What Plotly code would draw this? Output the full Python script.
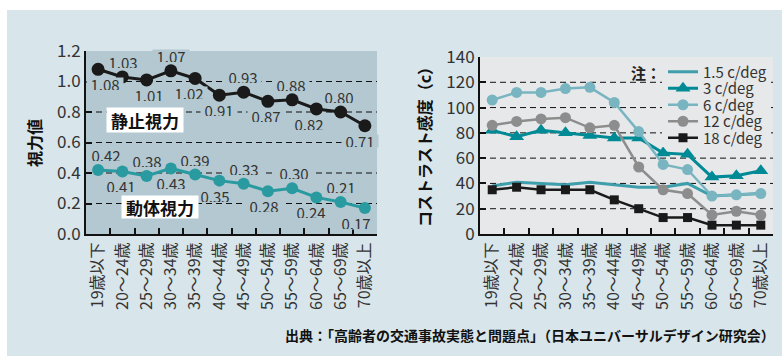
import plotly.graph_objects as go

# ---------------- data ----------------
age_labels = ["19歳以下", "20～24歳", "25～29歳", "30～34歳", "35～39歳", "40～44歳",
              "45～49歳", "50～54歳", "55～59歳", "60～64歳", "65～69歳", "70歳以上"]
static_acuity = [1.08, 1.03, 1.01, 1.07, 1.02, 0.91, 0.93, 0.87, 0.88, 0.82, 0.80, 0.71]
dynamic_acuity = [0.42, 0.41, 0.38, 0.43, 0.39, 0.35, 0.33, 0.28, 0.30, 0.24, 0.21, 0.17]
acuity_ticks = [0.0, 0.2, 0.4, 0.6, 0.8, 1.0, 1.2]

cs_names = ["1.5 c/deg", "3 c/deg", "6 c/deg", "12 c/deg", "18 c/deg"]
cs_1_5 = [38, 41, 40, 39, 41, 39, 37, 37, 40, 30, 31, 32]
cs_3 = [82, 77, 82, 80, 78, 76, 76, 64, 63, 45, 46, 50]
cs_6 = [106, 112, 112, 115, 116, 104, 81, 55, 51, 30, 31, 32]
cs_12 = [86, 89, 91, 92, 84, 86, 53, 35, 32, 15, 18, 15]
cs_18 = [35, 37, 35, 35, 35, 27, 20, 13, 13, 7, 7, 7]
cs_ticks = [0, 20, 40, 60, 80, 100, 120, 140]

# ---------------- style ----------------
W, H = 782, 356
FONT = "Noto Sans CJK JP"
OUTER_BG = "#d8e5ea"
LEFT_BG = "#b3c8d0"
RIGHT_BG = "#e6e8ea"
TXT = "#333333"

static_side = [1, -1, 1, -1, 1, 1, -1, 1, -1, 1, -1, 1]      # 1 = below, -1 = above
static_dx = [7, 1, 2, 0, -6, 0, -1, -2, -1, -7, -2, -5]
dynamic_side = [-1, 1, -1, 1, -1, 1, -1, 1, -1, 1, -1, 1]
dynamic_dx = [8, -1, 0, 0, 0, -4, 0, -4, 2, -5, 0, -9]

cs_series = [cs_1_5, cs_3, cs_6, cs_12, cs_18]
cs_colors = ["#3f9eab", "#008a95", "#79b5c1", "#8d8d8d", "#1a1a1a"]
cs_modes = ["lines", "lines+markers", "lines+markers", "lines+markers", "lines+markers"]
cs_symbols = ["circle", "triangle-up", "circle", "circle", "square"]
cs_msize = [1, 13, 11, 11, 9]
cs_lw = [3, 3, 2.5, 2.5, 2.5]
legend_rows_px = [72, 88.5, 105, 121.5, 138]


def px(x):
    return x / W


def py(y):
    return 1 - y / H


fig = go.Figure()

fig.add_trace(go.Scatter(
    x=age_labels, y=static_acuity, mode="lines+markers", xaxis="x", yaxis="y",
    line=dict(color="#1a1a1a", width=3), marker=dict(size=13, color="#1a1a1a"),
    showlegend=False, name="静止視力"))
fig.add_trace(go.Scatter(
    x=age_labels, y=dynamic_acuity, mode="lines+markers", xaxis="x", yaxis="y",
    line=dict(color="#2a9aa1", width=3), marker=dict(size=12, color="#2a9aa1"),
    showlegend=False, name="動体視力"))

for i, (name, vals) in enumerate(zip(cs_names, cs_series)):
    fig.add_trace(go.Scatter(
        x=age_labels, y=vals, mode=cs_modes[i], xaxis="x2", yaxis="y2", name=name,
        line=dict(color=cs_colors[i], width=cs_lw[i]),
        marker=dict(symbol=cs_symbols[i], size=cs_msize[i], color=cs_colors[i]),
        legend="legend" if i == 0 else f"legend{i + 1}"))

annotations = []
for vals, side, dx in [(static_acuity, static_side, static_dx),
                       (dynamic_acuity, dynamic_side, dynamic_dx)]:
    for i, v in enumerate(vals):
        annotations.append(dict(
            x=age_labels[i], y=v, xref="x", yref="y", text=f"{v:.2f}", showarrow=False,
            xanchor="center", yanchor="middle",
            xshift=dx[i], yshift=-15 * side[i], bgcolor=LEFT_BG, borderpad=0,
            height=12, width=36,
            font=dict(family=FONT, size=15, color=TXT)))


def paper_text(x, y, text, size, angle=0, color="#111111", bold=True, **kw):
    d = dict(x=px(x), y=py(y), xref="paper", yref="paper", text=text, showarrow=False,
             xanchor="center", yanchor="middle", textangle=angle,
             font=dict(family=FONT, size=size, color=color,
                       weight="bold" if bold else "normal"))
    d.update(kw)
    return d


annotations += [
    paper_text(145, 120, "静止視力", 17, bgcolor="white", width=76, height=24, borderpad=0),
    paper_text(160, 207, "動体視力", 17, bgcolor="white", width=76, height=22, borderpad=0),
    paper_text(34, 143, "視力値", 16, angle=-90),
    paper_text(424, 143, "コストラスト感度（c）", 16, angle=-90),
    paper_text(646, 72, "注：", 15, color="#222222"),
    paper_text(777, 335, "出典：「高齢者の交通事故実態と問題点」（日本ユニバーサルデザイン研究会）",
               14, xanchor="right"),
]

shapes = [
    dict(type="rect", xref="paper", yref="paper", x0=0, x1=px(7), y0=0, y1=1,
         fillcolor="white", line=dict(width=0), layer="below"),
    dict(type="rect", xref="paper", yref="paper", x0=0, x1=1, y0=py(10), y1=1,
         fillcolor="white", line=dict(width=0), layer="below"),
    dict(type="rect", xref="x2 domain", yref="y2 domain", x0=0, x1=1, y0=0, y1=1,
         fillcolor=RIGHT_BG, line=dict(width=0), layer="below"),
]
for t in acuity_ticks[1:-1]:
    shapes.append(dict(type="line", xref="x domain", yref="y", x0=0, x1=1, y0=t, y1=t,
                       line=dict(color="#111111", width=1, dash="6px,4px"), layer="below"))
for t in cs_ticks[1:-1]:
    shapes.append(dict(type="line", xref="x2 domain", yref="y2", x0=0, x1=1, y0=t, y1=t,
                       line=dict(color="#111111", width=1, dash="6px,4px"), layer="below"))
# legend background box
shapes.append(dict(type="rect", xref="paper", yref="paper", x0=px(662), x1=px(771),
                   y0=py(147), y1=py(62), fillcolor=RIGHT_BG, line=dict(width=0),
                   layer="above"))

xaxis_common = dict(
    type="category", categoryorder="array", categoryarray=age_labels, range=[-0.5, 11.5],
    tickson="boundaries", ticks="inside", ticklen=6, tickwidth=1.5, tickcolor="#111111",
    showline=True, linecolor="#111111", linewidth=2, showgrid=False, zeroline=False,
    tickangle=-90, tickfont=dict(family=FONT, size=16, color=TXT), fixedrange=True,
    automargin=False)
yaxis_common = dict(
    ticks="inside", ticklen=6, tickwidth=1.5, tickcolor="#111111", showline=True,
    linecolor="#111111", linewidth=2, showgrid=False, zeroline=False,
    tickfont=dict(family=FONT, size=17, color=TXT), fixedrange=True, automargin=False)

legends = {}
for i, yrow in enumerate(legend_rows_px):
    key = "legend" if i == 0 else f"legend{i + 1}"
    legends[key] = dict(
        x=px(663), y=py(yrow), xanchor="left", yanchor="middle",
        bgcolor="rgba(0,0,0,0)", borderwidth=0,
        font=dict(family=FONT, size=15, color=TXT), itemwidth=30, tracegroupgap=0)

fig.update_layout(
    width=W, height=H, margin=dict(l=0, r=0, t=0, b=0, autoexpand=False),
    paper_bgcolor=OUTER_BG, plot_bgcolor=LEFT_BG,
    xaxis=dict(domain=[px(86), px(377)], anchor="y", **xaxis_common),
    yaxis=dict(domain=[py(234), py(51)], anchor="x", range=[0, 1.2],
               tickvals=acuity_ticks, tickformat=".1f", **yaxis_common),
    xaxis2=dict(domain=[px(480), px(773)], anchor="y2", **xaxis_common),
    yaxis2=dict(domain=[py(234), py(57)], anchor="x2", range=[0, 140],
                tickvals=cs_ticks, **yaxis_common),
    annotations=annotations, shapes=shapes, **legends,
)

fig.write_html("out.html")
